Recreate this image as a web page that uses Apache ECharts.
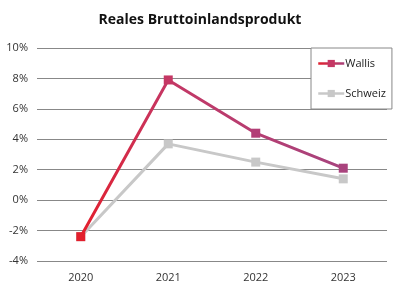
<!DOCTYPE html>
<html><head><meta charset="utf-8">
<script src="https://cdn.jsdelivr.net/npm/echarts@6/dist/echarts.min.js"></script>
<style>html,body{margin:0;padding:0;background:#fff}#c{width:400px;height:296px}</style>
</head><body><div id="c"></div>
<script>
const categories = ['2020', '2021', '2022', '2023'];
const wallis = [-2.4, 7.9, 4.4, 2.1];
const schweiz = [-2.4, 3.7, 2.5, 1.4];
const yTicks = {min: -4, max: 10, interval: 2};

const wallisMarkerColors = ['#e21f2c', '#c53764', '#b23f76', '#a9437d'];
const wallisGrad = new echarts.graphic.LinearGradient(0, 0, 1, 0, [
  {offset: 0, color: '#e41e2b'},
  {offset: 0.33, color: '#c53764'},
  {offset: 1, color: '#a6447f'}
]);
const legendGrad = new echarts.graphic.LinearGradient(0, 0, 1, 0, [
  {offset: 0, color: '#e41e2b'},
  {offset: 1, color: '#a6447f'}
]);
const font = '"Open Sans", "DejaVu Sans", sans-serif';
const chart = echarts.init(document.getElementById('c'));
chart.setOption({
  animation: false,
  title: {text: 'Reales Bruttoinlandsprodukt', left: 'center', top: 8,
    textStyle: {fontFamily: font, fontWeight: 'bold', fontSize: 14, color: '#111'}},
  grid: {left: 37, right: 13, top: 48, bottom: 35},
  legend: {orient: 'vertical', left: 311, top: 48, width: 76, height: 60,
    padding: [10, 6, 10, 6], itemGap: 19, itemWidth: 26, itemHeight: 9,
    borderColor: '#888', borderWidth: 1, backgroundColor: '#fff', borderRadius: 0,
    textStyle: {fontFamily: font, fontSize: 11, color: '#222', padding: [0,0,0,-4]},
    data: [
      {name: 'Wallis', itemStyle: {color: '#c53764'}, lineStyle: {color: legendGrad, width: 2.5}},
      {name: 'Schweiz', itemStyle: {color: '#c8c8c8'}, lineStyle: {color: '#c8c8c8', width: 2.5}}
    ]},
  xAxis: {type: 'category', data: categories, boundaryGap: true,
    axisLine: {show: false}, axisTick: {show: false},
    axisLabel: {fontFamily: font, fontSize: 11, color: '#333', margin: 11}},
  yAxis: {type: 'value', min: yTicks.min, max: yTicks.max, interval: yTicks.interval,
    axisLine: {show: false}, axisTick: {show: false},
    splitLine: {lineStyle: {color: '#888', width: 1}},
    axisLabel: {fontFamily: font, fontSize: 11, color: '#333', margin: 9,
      formatter: v => v + '%'}},
  series: [
    {name: 'Schweiz', type: 'line', data: schweiz, z: 2,
      symbol: 'rect', symbolSize: 9,
      lineStyle: {color: '#c8c8c8', width: 3},
      itemStyle: {color: '#c8c8c8'}},
    {name: 'Wallis', type: 'line', data: wallis, z: 3,
      symbol: 'rect', symbolSize: 9,
      lineStyle: {color: wallisGrad, width: 3},
      itemStyle: {color: p => wallisMarkerColors[p.dataIndex]}}
  ]
});
</script></body></html>
